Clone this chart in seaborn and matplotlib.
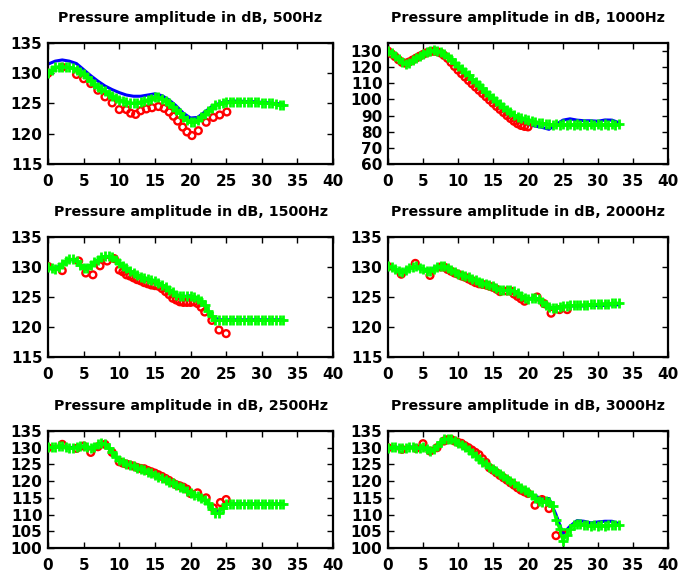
import numpy as np
import pandas as pd
import matplotlib
matplotlib.use("Agg")
import matplotlib.pyplot as plt
import seaborn as sns

# ---------------- data ----------------
titles = ["Pressure amplitude in dB, 500Hz", "Pressure amplitude in dB, 1000Hz",
          "Pressure amplitude in dB, 1500Hz", "Pressure amplitude in dB, 2000Hz",
          "Pressure amplitude in dB, 2500Hz", "Pressure amplitude in dB, 3000Hz"]

x_green = np.arange(0, 33.01, 0.5)   # 67 positions
x_blue = np.arange(0, 34, 1)          # 34 positions

green_500 = [130.0, 130.6, 131.0, 131.1, 131.1, 131.1, 131.0, 130.8, 130.5, 130.2,
             129.8, 129.3, 128.8, 128.3, 127.8, 127.4, 127.0, 126.6, 126.2, 125.9,
             125.6, 125.4, 125.2, 125.1, 125.1, 125.1, 125.2, 125.4, 125.6, 125.8,
             126.0, 126.0, 125.8, 125.4, 125.0, 124.5, 124.0, 123.4, 122.8, 122.3,
             122.0, 121.9, 122.2, 122.7, 123.2, 123.8, 124.3, 124.7, 124.9, 125.1,
             125.2, 125.3, 125.3, 125.3, 125.3, 125.3, 125.3, 125.2, 125.2, 125.2,
             125.1, 125.1, 125.0, 125.0, 124.9, 124.8, 124.8]
blue_500 = [131.5, 132.0, 132.2, 132.0, 131.6, 130.6, 129.6, 128.7, 127.9, 127.3,
            126.8, 126.4, 126.2, 126.2, 126.4, 126.6, 126.3, 125.6, 124.6, 123.4,
            122.6, 122.7, 123.6, 124.5, 125.0, 125.3, 125.4, 125.4, 125.3, 125.3,
            125.2, 125.1, 125.0, 124.9]
red_x_500 = [0, 2, 4, 5, 6, 7, 8, 9, 10, 11, 11.6, 12.3, 13, 13.8, 14.6, 15.5, 16.3,
             17, 17.6, 18.2, 18.9, 19.5, 20.2, 21.1, 22.2, 23.2, 24.1, 25.1]
red_500 = [130.0, 131.0, 129.8, 129.1, 128.3, 127.2, 126.1, 125.1, 124.0, 124.0, 123.4,
           123.2, 123.8, 124.1, 124.3, 124.5, 124.2, 123.6, 122.9, 122.1, 121.1, 120.3,
           119.7, 120.5, 121.9, 122.7, 123.1, 123.6]

green_1000 = [130.0, 128.5, 127.0, 125.2, 123.3, 121.8, 122.8, 124.3, 125.8, 127.2,
              128.4, 129.4, 130.2, 130.5, 130.2, 129.3, 128.0, 126.5, 124.8, 122.9,
              120.9, 118.9, 116.9, 114.9, 112.9, 110.9, 108.9, 106.9, 104.9, 102.9,
              100.9, 98.9, 97.0, 95.2, 93.5, 92.0, 90.6, 89.4, 88.4, 87.6,
              87.0, 86.5, 86.0, 85.6, 85.2, 84.9, 84.6, 84.4, 84.5, 84.2,
              84.6, 84.2, 84.6, 84.2, 84.6, 84.2, 84.6, 84.2, 84.6, 84.2,
              84.6, 84.2, 84.6, 84.2, 84.6, 84.2, 84.5]
blue_1000 = [130.0, 127.0, 123.5, 122.5, 125.8, 128.4, 130.2, 130.2, 128.0, 124.8,
             120.9, 116.9, 112.9, 108.9, 104.9, 100.9, 97.3, 93.6, 90.0, 86.5,
             84.5, 83.5, 82.7, 81.5, 84.5, 87.2, 88.0, 87.2, 86.8, 86.8,
             86.5, 87.3, 87.2, 85.6]
red_x_1000 = [0, 0.5, 1, 1.5, 2, 2.5, 3, 3.5, 4, 4.5, 5, 5.5, 6, 6.5, 7, 7.5, 8, 8.5,
              9, 9.5, 10, 10.5, 11, 11.5, 12, 12.5, 13, 13.5, 14, 14.5, 15, 15.5, 16,
              16.5, 17, 17.5, 18, 18.5, 19, 19.5, 20]
red_1000 = [130.0, 128.3, 126.6, 124.6, 123.0, 122.5, 123.2, 124.4, 125.6, 126.8, 127.9,
            128.9, 129.6, 129.9, 129.7, 128.8, 127.3, 125.5, 123.0, 120.5, 118.2, 116.0,
            113.9, 111.8, 109.7, 107.7, 105.7, 103.7, 101.7, 99.7, 97.7, 95.7, 93.8,
            91.9, 90.0, 88.2, 86.5, 85.0, 83.9, 83.3, 83.0]

green_1500 = [130.0, 129.8, 129.6, 130.0, 130.5, 131.0, 131.3, 131.3, 131.0, 130.4,
              129.8, 129.8, 130.3, 130.8, 131.2, 131.6, 131.8, 131.8, 131.6, 131.2,
              130.7, 130.2, 129.8, 129.4, 129.0, 128.7, 128.4, 128.2, 128.0, 127.8,
              127.6, 127.3, 127.0, 126.6, 126.2, 125.8, 125.4, 125.2, 125.1, 125.1,
              125.1, 125.0, 124.7, 124.3, 123.6, 122.7, 121.8, 121.2, 121.1, 121.1,
              121.1, 121.1, 121.1, 121.1, 121.1, 121.1, 121.1, 121.1, 121.1, 121.1,
              121.1, 121.1, 121.1, 121.1, 121.1, 121.1, 121.1]
blue_1500 = [130.0, 129.7, 130.5, 131.3, 131.0, 129.9, 130.3, 131.2, 131.8, 131.6,
             130.7, 129.8, 129.0, 128.4, 128.0, 127.6, 127.0, 126.2, 125.4, 125.1,
             125.2, 124.8, 123.6, 121.8, 121.2, 121.2, 121.2, 121.2, 121.2, 121.2,
             121.2, 121.2, 121.2, 121.2]
red_x_1500 = [0, 2, 4.3, 5.3, 6.3, 7.3, 8.3, 9.3, 10, 10.5, 11, 11.5, 12, 12.5, 13,
              13.5, 14, 14.5, 15, 15.5, 16, 16.5, 17, 17.5, 18, 18.5, 19, 19.5, 20,
              20.5, 21, 21.5, 22, 23, 24, 25]
red_1500 = [130.1, 129.4, 131.0, 129.0, 128.7, 130.2, 131.0, 131.4, 129.5, 129.2, 128.7,
            128.5, 128.2, 127.9, 127.7, 127.4, 127.2, 127.0, 126.9, 126.8, 126.4, 125.9,
            125.4, 124.8, 124.5, 124.2, 124.1, 124.1, 124.1, 124.2, 123.9, 123.3, 122.5,
            121.1, 119.5, 118.9]

green_2000 = [130.1, 130.0, 129.6, 129.3, 129.2, 129.5, 129.8, 130.0, 130.1, 129.9,
              129.6, 129.4, 129.4, 129.7, 130.0, 130.2, 130.2, 129.9, 129.5, 129.2,
              128.9, 128.7, 128.5, 128.3, 128.0, 127.8, 127.5, 127.3, 127.1, 127.0,
              126.8, 126.5, 126.2, 126.1, 126.1, 126.2, 126.0, 125.6, 125.1, 124.8,
              124.7, 124.8, 124.9, 124.7, 124.2, 123.7, 123.3, 123.1, 123.2, 123.4,
              123.5, 123.5, 123.6, 123.6, 123.6, 123.7, 123.7, 123.7, 123.8, 123.8,
              123.8, 123.9, 123.9, 123.9, 124.0, 124.0, 124.0]
blue_2000 = [130.1, 129.6, 129.3, 129.8, 130.0, 129.6, 129.5, 130.0, 130.3, 129.5,
             128.9, 128.5, 128.0, 127.5, 127.1, 126.8, 126.2, 126.1, 126.0, 125.1,
             124.7, 124.9, 124.2, 123.3, 123.2, 123.4, 123.5, 123.5, 123.5, 123.6,
             123.6, 123.6, 123.7, 123.7]
red_x_2000 = [0, 1.9, 3.9, 6, 7.5, 8, 8.5, 9, 9.5, 10, 10.5, 11, 11.5, 12, 12.5, 13,
              13.5, 14, 14.5, 15, 15.5, 16, 17, 17.5, 18, 18.5, 19, 19.5, 21.3, 22.3,
              23.3, 24.5, 25.6]
red_2000 = [130.1, 128.8, 130.6, 128.6, 130.0, 130.0, 129.6, 129.3, 129.0, 128.8, 128.5,
            128.3, 128.0, 127.7, 127.4, 127.2, 127.1, 127.0, 126.8, 126.6, 126.3, 125.9,
            126.0, 126.0, 125.5, 125.1, 124.7, 124.3, 125.0, 123.9, 122.3, 122.9, 122.9]

green_2500 = [130.2, 130.1, 130.3, 130.6, 130.6, 130.3, 130.0, 129.9, 130.3, 130.6,
              130.5, 130.2, 129.9, 130.3, 131.0, 131.4, 131.0, 130.0, 128.6, 127.3,
              126.3, 125.6, 125.2, 124.8, 124.4, 124.0, 123.6, 123.2, 122.8, 122.3,
              121.8, 121.3, 120.8, 120.3, 119.8, 119.3, 118.8, 118.3, 117.8, 117.2,
              116.6, 116.0, 115.5, 115.0, 114.5, 113.4, 111.6, 110.4, 110.6, 112.0,
              113.1, 113.2, 113.2, 113.2, 113.2, 113.2, 113.2, 113.2, 113.2, 113.2,
              113.2, 113.2, 113.2, 113.2, 113.2, 113.2, 113.2]
blue_2500 = [130.2, 130.3, 130.6, 130.0, 130.3, 130.5, 129.9, 131.0, 131.0, 128.6,
             126.3, 125.2, 124.4, 123.6, 122.8, 121.8, 120.8, 119.8, 118.8, 117.8,
             116.6, 115.5, 114.5, 111.8, 110.8, 113.0, 113.2, 113.2, 113.2, 113.2,
             113.2, 113.2, 113.2, 113.2]
red_x_2500 = [0, 2, 4, 5, 6, 7, 8, 9, 10, 10.5, 11, 11.5, 12, 12.5, 13, 13.5, 14, 14.5,
              15, 15.5, 16, 16.5, 17, 17.5, 18, 18.5, 19, 19.5, 20, 21, 22.2, 23.2,
              24.2, 25]
red_2500 = [130.0, 131.0, 129.8, 130.5, 128.6, 130.3, 131.0, 128.6, 125.8, 125.4, 125.1,
            124.8, 124.5, 124.1, 123.8, 123.7, 123.2, 122.8, 122.4, 121.9, 121.4, 120.8,
            120.2, 119.5, 118.9, 118.6, 118.2, 117.6, 116.3, 116.5, 115.0, 112.0, 113.6,
            114.5]

green_3000 = [130.0, 130.2, 130.3, 130.0, 129.8, 130.0, 130.3, 130.2, 130.0, 129.8,
              130.2, 129.5, 129.0, 129.5, 130.5, 131.8, 132.5, 132.7, 132.5, 132.0,
              131.4, 130.8, 130.2, 129.4, 128.5, 127.6, 126.7, 125.8, 125.0, 124.3,
              123.7, 123.0, 122.2, 121.4, 120.7, 120.0, 119.3, 118.5, 117.8, 117.3,
              116.8, 116.0, 115.0, 114.0, 113.8, 114.0, 113.8, 112.5, 108.5, 105.8,
              102.0, 104.0, 105.8, 106.8, 107.3, 107.3, 107.0, 106.8, 106.6, 106.8,
              106.6, 106.8, 106.6, 106.8, 106.8, 107.0, 107.0]
blue_3000 = [130.0, 130.3, 129.8, 130.3, 130.0, 130.2, 129.0, 130.5, 132.5, 132.5,
             131.4, 130.2, 128.5, 126.7, 125.0, 123.7, 122.2, 120.7, 119.3, 118.0,
             117.0, 115.5, 114.8, 114.8, 110.0, 104.3, 106.5, 108.2, 108.0, 107.5,
             107.8, 108.0, 108.0, 107.3]
red_x_3000 = [0, 2, 4, 5, 6, 7, 8, 8.5, 9, 9.5, 10, 10.5, 11, 11.5, 12, 12.5, 13, 13.5,
              14, 14.5, 15, 15.5, 16, 16.5, 17, 17.5, 18, 18.5, 19, 19.5, 20, 21, 22,
              23, 24, 25]
red_3000 = [130.0, 129.5, 129.8, 131.2, 129.0, 130.0, 132.0, 132.4, 132.5, 132.0, 131.6,
            131.3, 130.6, 130.0, 129.3, 128.6, 127.9, 126.7, 125.6, 124.0, 123.3, 122.5,
            121.7, 121.0, 120.3, 119.5, 118.8, 118.0, 117.3, 116.8, 116.3, 112.8, 114.5,
            111.8, 103.7, 104.3]

greens = [green_500, green_1000, green_1500, green_2000, green_2500, green_3000]
blues = [blue_500, blue_1000, blue_1500, blue_2000, blue_2500, blue_3000]
red_xs = [red_x_500, red_x_1000, red_x_1500, red_x_2000, red_x_2500, red_x_3000]
reds = [red_500, red_1000, red_1500, red_2000, red_2500, red_3000]

ylims = [(115, 135), (60, 135), (115, 135), (115, 135), (100, 135), (100, 135)]
yticks = [np.arange(115, 136, 5), np.arange(60, 131, 10), np.arange(115, 136, 5),
          np.arange(115, 136, 5), np.arange(100, 136, 5), np.arange(100, 136, 5)]
xticks = np.arange(0, 41, 5)

# ---------------- style ----------------
sns.set_style("ticks")
plt.rcParams['font.family'] = ['DejaVu Sans']
plt.rcParams['font.weight'] = 'bold'
plt.rcParams['text.color'] = 'black'

fig = plt.figure(figsize=(6.78, 5.76), dpi=100)

W, H = 678, 576
col_lr = [(48, 333), (388, 668)]
row_tb = [(43, 164), (237, 357), (431, 548)]

for i in range(6):
    r, c = divmod(i, 2)
    l, rr = col_lr[c]
    t, b = row_tb[r]
    ax = fig.add_axes([l / W, 1 - b / H, (rr - l) / W, (b - t) / H])

    sns.lineplot(x=x_blue, y=blues[i], ax=ax, color="#0000ff", lw=2.2,
                 estimator=None, sort=False, zorder=2)
    sns.scatterplot(x=red_xs[i], y=reds[i], ax=ax, marker="o", s=24,
                    facecolor="none", edgecolor="#ff0000", linewidth=1.7, zorder=3)
    sns.lineplot(x=x_green, y=greens[i], ax=ax, color="#00ff00", lw=2.0,
                 marker="+", markersize=7.5, markeredgewidth=2.0,
                 markeredgecolor="#00ff00", estimator=None, sort=False, zorder=4)

    ax.set_xlim(0, 40)
    ax.set_ylim(*ylims[i])
    ax.set_xticks(xticks)
    ax.set_yticks(yticks[i])
    ax.set_xlabel("")
    ax.set_ylabel("")
    ax.tick_params(direction="in", top=True, right=True, length=4, width=1,
                   labelsize=11, colors="black")
    ax.tick_params(axis="x", pad=7)
    ax.tick_params(axis="y", pad=4)
    for lab in ax.get_xticklabels() + ax.get_yticklabels():
        lab.set_fontweight("bold")
    for sp in ax.spines.values():
        sp.set_visible(True)
        sp.set_linewidth(1.6)
        sp.set_color("black")
    ax.set_title(titles[i], fontsize=10.3, fontweight="bold", pad=15, color="black")

fig.savefig("out.png", dpi=100, facecolor="white")
